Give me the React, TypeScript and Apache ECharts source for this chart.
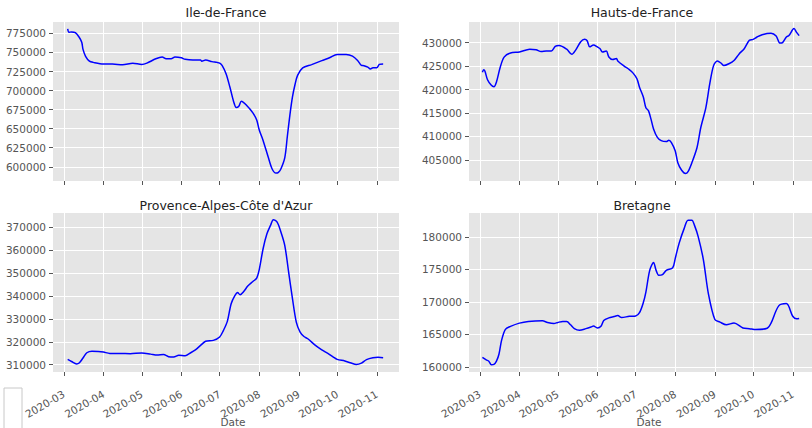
import React, { useEffect, useRef } from 'react';
import * as echarts from 'echarts';

const regionNames = ['Ile-de-France', 'Hauts-de-France', "Provence-Alpes-Côte d'Azur", 'Bretagne'];
const monthTicks = ['2020-03-01', '2020-04-01', '2020-05-01', '2020-06-01', '2020-07-01', '2020-08-01', '2020-09-01', '2020-10-01', '2020-11-01'];
const xExtent = ['2020-02-21 12', '2020-11-18 10'];

const idfDates = ['2020-03-04', '2020-03-05', '2020-03-07', '2020-03-10', '2020-03-13', '2020-03-15', '2020-03-16', '2020-03-18', '2020-03-21', '2020-03-24', '2020-04-01', '2020-04-08', '2020-04-16', '2020-04-24', '2020-05-01', '2020-05-05', '2020-05-12', '2020-05-17', '2020-05-20', '2020-05-24', '2020-05-27', '2020-06-01', '2020-06-04', '2020-06-10', '2020-06-16', '2020-06-17', '2020-06-20', '2020-06-25', '2020-06-29', '2020-07-01', '2020-07-03', '2020-07-06', '2020-07-09', '2020-07-12', '2020-07-14', '2020-07-16', '2020-07-18', '2020-07-22', '2020-07-27', '2020-07-30', '2020-08-01', '2020-08-04', '2020-08-08', '2020-08-11', '2020-08-14', '2020-08-16', '2020-08-18', '2020-08-21', '2020-08-23', '2020-08-25', '2020-08-27', '2020-08-29', '2020-08-31', '2020-09-04', '2020-09-11', '2020-09-19', '2020-09-25', '2020-10-01', '2020-10-08', '2020-10-13', '2020-10-17', '2020-10-20', '2020-10-22', '2020-10-25', '2020-10-27', '2020-10-29', '2020-11-01', '2020-11-03', '2020-11-06'];
const idfValues = [781000, 776500, 777000, 776000, 770000, 763500, 754000, 745000, 738700, 737000, 734800, 734800, 733900, 736000, 734300, 736000, 741700, 744000, 741700, 741700, 744000, 743000, 741000, 740000, 740000, 738500, 740000, 738000, 737000, 736000, 732800, 722000, 704600, 685100, 677800, 679500, 686000, 680800, 670800, 661300, 648300, 634600, 612700, 597400, 591700, 592600, 597400, 612000, 640000, 668000, 691600, 708000, 720000, 729800, 734100, 739300, 743000, 747400, 747400, 745300, 739600, 733000, 732600, 730800, 728200, 730000, 730000, 734300, 735000];

const hdfDates = ['2020-03-03', '2020-03-04', '2020-03-05', '2020-03-07', '2020-03-10', '2020-03-12', '2020-03-14', '2020-03-17', '2020-03-20', '2020-03-25', '2020-04-01', '2020-04-09', '2020-04-14', '2020-04-18', '2020-04-22', '2020-04-26', '2020-04-29', '2020-05-02', '2020-05-08', '2020-05-12', '2020-05-15', '2020-05-19', '2020-05-22', '2020-05-24', '2020-05-26', '2020-05-29', '2020-06-01', '2020-06-03', '2020-06-05', '2020-06-08', '2020-06-10', '2020-06-13', '2020-06-16', '2020-06-17', '2020-06-22', '2020-06-26', '2020-06-29', '2020-07-02', '2020-07-04', '2020-07-07', '2020-07-09', '2020-07-11', '2020-07-13', '2020-07-15', '2020-07-18', '2020-07-21', '2020-07-25', '2020-07-27', '2020-07-29', '2020-08-01', '2020-08-03', '2020-08-06', '2020-08-09', '2020-08-11', '2020-08-14', '2020-08-18', '2020-08-21', '2020-08-25', '2020-08-28', '2020-08-31', '2020-09-03', '2020-09-06', '2020-09-08', '2020-09-12', '2020-09-16', '2020-09-20', '2020-09-24', '2020-09-28', '2020-10-01', '2020-10-04', '2020-10-08', '2020-10-15', '2020-10-19', '2020-10-22', '2020-10-24', '2020-10-27', '2020-10-29', '2020-11-02', '2020-11-04', '2020-11-06'];
const hdfValues = [423700, 424200, 423900, 422100, 420900, 420600, 421600, 424800, 426900, 427800, 428000, 428600, 428500, 428100, 428200, 428200, 429200, 429400, 428600, 427500, 428400, 430200, 430700, 430400, 429100, 429500, 429100, 428750, 428000, 428200, 426950, 426400, 426600, 426100, 425000, 424250, 423500, 422300, 420500, 418400, 416100, 415500, 413700, 411600, 409800, 409100, 408900, 409200, 408700, 406900, 404400, 402800, 402100, 402500, 404400, 407600, 411900, 416200, 421200, 425100, 426100, 425600, 425100, 425500, 426200, 427600, 428700, 430500, 430700, 431200, 431700, 432000, 431400, 429900, 430000, 431200, 431500, 433000, 432200, 431500];

const pacaDates = ['2020-03-04', '2020-03-07', '2020-03-11', '2020-03-13', '2020-03-16', '2020-03-19', '2020-03-23', '2020-03-28', '2020-04-01', '2020-04-06', '2020-04-14', '2020-04-22', '2020-05-01', '2020-05-08', '2020-05-13', '2020-05-18', '2020-05-22', '2020-05-26', '2020-05-30', '2020-06-04', '2020-06-08', '2020-06-12', '2020-06-16', '2020-06-20', '2020-06-26', '2020-07-01', '2020-07-04', '2020-07-07', '2020-07-10', '2020-07-13', '2020-07-15', '2020-07-17', '2020-07-20', '2020-07-23', '2020-07-27', '2020-07-30', '2020-08-01', '2020-08-04', '2020-08-07', '2020-08-10', '2020-08-12', '2020-08-15', '2020-08-18', '2020-08-21', '2020-08-24', '2020-08-27', '2020-08-30', '2020-09-02', '2020-09-05', '2020-09-08', '2020-09-14', '2020-09-19', '2020-09-24', '2020-09-28', '2020-10-01', '2020-10-07', '2020-10-12', '2020-10-16', '2020-10-20', '2020-10-24', '2020-10-29', '2020-11-02', '2020-11-06'];
const pacaValues = [312300, 311400, 310300, 310700, 312900, 315200, 315900, 315800, 315500, 314900, 314900, 314800, 315100, 314600, 314200, 314400, 313500, 313300, 314100, 313900, 315100, 316500, 318400, 320200, 320600, 322100, 325000, 328900, 336600, 340200, 341500, 340500, 342000, 344300, 346300, 347800, 351500, 360600, 367100, 371000, 373300, 372200, 367800, 362000, 350400, 338800, 328600, 324200, 322300, 321300, 318400, 316500, 314800, 313300, 312300, 311600, 310700, 310100, 310700, 312200, 313000, 313200, 313000];

const breDates = ['2020-03-03', '2020-03-06', '2020-03-08', '2020-03-10', '2020-03-12', '2020-03-14', '2020-03-16', '2020-03-18', '2020-03-21', '2020-03-25', '2020-04-01', '2020-04-08', '2020-04-19', '2020-04-23', '2020-04-28', '2020-05-01', '2020-05-05', '2020-05-08', '2020-05-11', '2020-05-14', '2020-05-18', '2020-05-23', '2020-05-27', '2020-05-29', '2020-06-01', '2020-06-04', '2020-06-06', '2020-06-10', '2020-06-14', '2020-06-17', '2020-06-20', '2020-06-26', '2020-07-01', '2020-07-04', '2020-07-07', '2020-07-09', '2020-07-12', '2020-07-15', '2020-07-17', '2020-07-19', '2020-07-22', '2020-07-25', '2020-07-30', '2020-08-01', '2020-08-04', '2020-08-08', '2020-08-11', '2020-08-14', '2020-08-16', '2020-08-19', '2020-08-23', '2020-08-27', '2020-09-01', '2020-09-05', '2020-09-10', '2020-09-16', '2020-09-23', '2020-09-28', '2020-10-03', '2020-10-12', '2020-10-15', '2020-10-21', '2020-10-27', '2020-11-01', '2020-11-04', '2020-11-06'];
const breValues = [161500, 161100, 160900, 160350, 160400, 160900, 162000, 164100, 165800, 166250, 166750, 167000, 167100, 166850, 166700, 166850, 167000, 167000, 166500, 165900, 165650, 165900, 166150, 166300, 166000, 166300, 167150, 167550, 167750, 167900, 167600, 167800, 167850, 168350, 169900, 171500, 174850, 176050, 174850, 174100, 174200, 174850, 175250, 176700, 179000, 181300, 182550, 182550, 181800, 180000, 176500, 171200, 167300, 166900, 166500, 166750, 166000, 165900, 165750, 165950, 166750, 169400, 169750, 167800, 167400, 167450];

const idfTicks = [600000, 625000, 650000, 675000, 700000, 725000, 750000, 775000];
const hdfTicks = [405000, 410000, 415000, 420000, 425000, 430000];
const pacaTicks = [310000, 320000, 330000, 340000, 350000, 360000, 370000];
const breTicks = [160000, 165000, 170000, 175000, 180000];

const yExtents = [
  [581300, 790000],
  [400500, 434400],
  [306800, 376200],
  [159240, 183660],
];

const seriesDates = [idfDates, hdfDates, pacaDates, breDates];
const seriesValues = [idfValues, hdfValues, pacaValues, breValues];
const seriesTicks = [idfTicks, hdfTicks, pacaTicks, breTicks];

function ts(s: string): number {
  const [d, h] = s.split(' ');
  const [y, m, dd] = d.split('-').map(Number);
  return new Date(y, m - 1, dd, h ? Number(h) : 0).getTime();
}

function fmtMonth(v: number): string {
  const d = new Date(v);
  const m = d.getMonth() + 1;
  return d.getFullYear() + '-' + (m < 10 ? '0' + m : String(m));
}

const FONT = 'DejaVu Sans';

export default function App() {
  const ref = useRef<HTMLDivElement>(null);
  useEffect(() => {
    document.body.style.margin = '0';
    if (!ref.current) return;
    const chart = echarts.init(ref.current, undefined, { renderer: 'svg' });
    const grids = [
      { left: 53, top: 22, width: 346, height: 159 },
      { left: 469, top: 22, width: 346, height: 159 },
      { left: 53, top: 213, width: 346, height: 159 },
      { left: 469, top: 213, width: 346, height: 159 },
    ].map((g) => ({
      ...g,
      show: true,
      backgroundColor: '#E5E5E5',
      borderWidth: 0,
      containLabel: false,
      outerBoundsMode: 'none',
    }));
    const monthTs = monthTicks.map(ts);
    const xAxis = grids.map((_, i) => ({
      type: 'value',
      gridIndex: i,
      min: ts(xExtent[0]),
      max: ts(xExtent[1]),
      axisLine: { show: false },
      axisTick: { show: true, length: 4, lineStyle: { color: '#555' }, customValues: monthTs },
      axisLabel: {
        show: i >= 2,
        customValues: monthTs,
        rotate: 30,
        margin: 21,
        color: '#555',
        fontSize: 10.5,
        fontFamily: FONT,
        formatter: fmtMonth,
      },
      splitLine: { show: true, lineStyle: { color: '#ffffff', width: 1 } },
      name: i >= 2 ? 'Date' : '',
      nameLocation: 'middle',
      nameGap: 44,
      nameMoveOverlap: false,
      nameTextStyle: { color: '#555', fontSize: 10.5, fontFamily: FONT, padding: [0, 0, 0, 14] },
    }));
    const yAxis = grids.map((_, i) => ({
      type: 'value',
      gridIndex: i,
      min: yExtents[i][0],
      max: yExtents[i][1],
      axisLine: { show: false },
      axisTick: { show: true, length: 4, lineStyle: { color: '#555' }, customValues: seriesTicks[i] },
      axisLabel: {
        customValues: seriesTicks[i],
        color: '#555',
        fontSize: 10.5,
        fontFamily: FONT,
        margin: 7,
        formatter: (v: number) => String(v),
      },
      splitLine: { show: true, lineStyle: { color: '#ffffff', width: 1 } },
    }));
    const series = grids.map((_, i) => ({
      type: 'line',
      xAxisIndex: i,
      yAxisIndex: i,
      data: seriesDates[i].map((d, j) => [ts(d), seriesValues[i][j]]),
      symbol: 'none',
      showSymbol: false,
      smooth: 0.3,
      lineStyle: { color: '#0000FF', width: 1.5 },
      itemStyle: { color: '#0000FF' },
      clip: true,
    }));
    const titleY = [12.5, 12.5, 205, 205];
    const graphic: any[] = grids.map((g, i) => ({
      type: 'text',
      x: g.left + g.width / 2,
      y: titleY[i],
      style: {
        text: regionNames[i],
        fill: '#222',
        font: `12.5px "${FONT}"`,
        textAlign: 'center',
        textVerticalAlign: 'middle',
      },
    }));
    graphic.push({
      type: 'rect',
      shape: { x: 4, y: 388, width: 18, height: 50 },
      style: { fill: '#ffffff', stroke: '#c8c8c8', lineWidth: 1 },
    });
    chart.setOption({
      animation: false,
      textStyle: { fontFamily: FONT },
      grid: grids,
      xAxis,
      yAxis,
      series,
      graphic,
    });
    return () => chart.dispose();
  }, []);
  return <div ref={ref} style={{ width: 812, height: 428, background: '#fff' }} />;
}
